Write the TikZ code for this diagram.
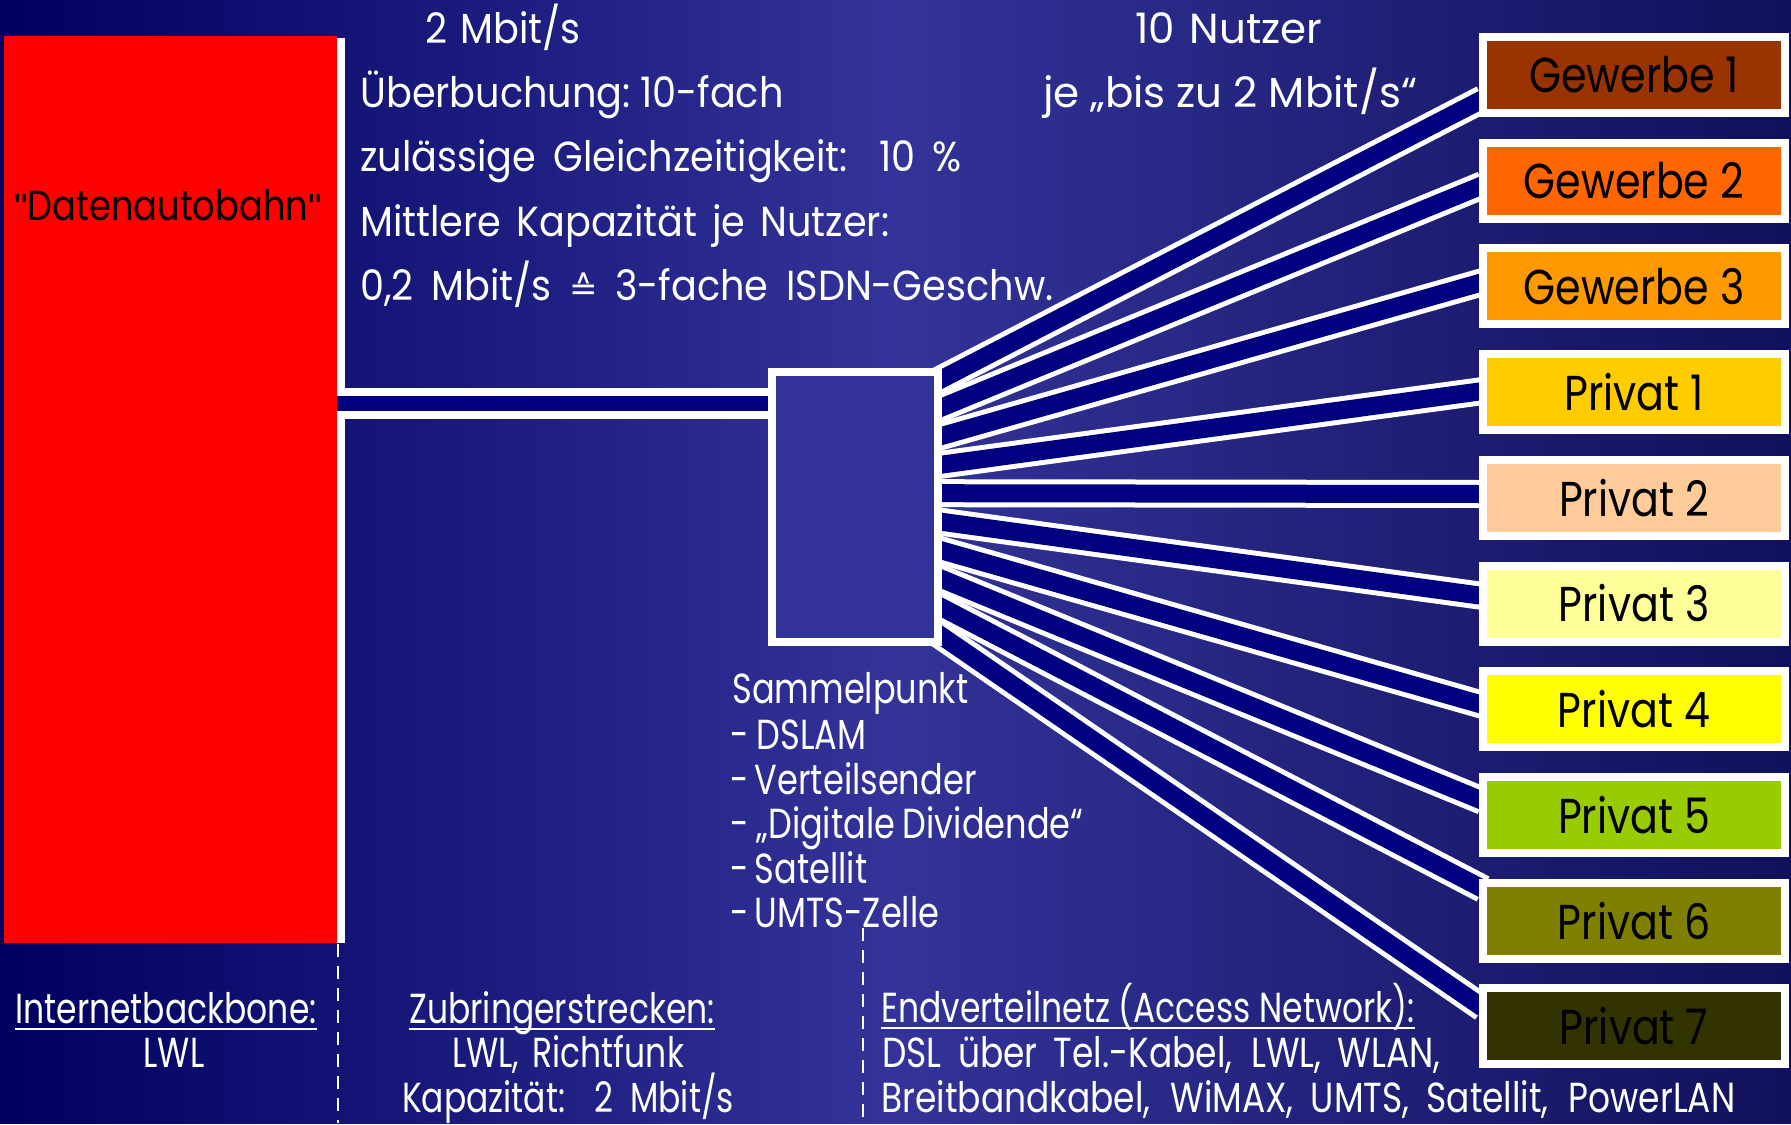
\documentclass[tikz,border=0pt]{standalone}
\usepackage{fontspec}
\setmainfont{Poppins}[FakeStretch=0.84]
\newfontfamily\fTop{Poppins}[FakeStretch=0.91]
\newfontfamily\fTR{Poppins}[FakeStretch=1.0]
\newfontfamily\fMid{Poppins}[FakeStretch=0.8]
\newfontfamily\fBot{Poppins}[FakeStretch=0.785]
\newfontfamily\fBotW{Poppins}[FakeStretch=0.82]
\newfontfamily\symf{DejaVu Sans}
\newfontfamily\qf{Liberation Sans}
\newcommand\fw[2]{\hbox to #1pt{\spaceskip=3pt plus 1fil\relax #2}}
\newcommand\nsp[2]{\hbox{\spaceskip=#1pt\relax #2}}
\usetikzlibrary{calc}
\pgfdeclarelayer{bglayer}
\pgfdeclarelayer{wirelayer}
\pgfsetlayers{bglayer,wirelayer,main}
\definecolor{bgL}{RGB}{0,0,96}
\definecolor{bgM}{RGB}{51,51,153}
\definecolor{bgR}{RGB}{16,16,92}
\definecolor{navyline}{RGB}{0,0,128}
\definecolor{cG1}{RGB}{153,51,0}
\definecolor{cG2}{RGB}{255,102,0}
\definecolor{cG3}{RGB}{255,153,0}
\definecolor{cP1}{RGB}{255,204,0}
\definecolor{cP2}{RGB}{255,204,153}
\definecolor{cP3}{RGB}{255,255,153}
\definecolor{cP4}{RGB}{255,255,0}
\definecolor{cP5}{RGB}{153,204,0}
\definecolor{cP6}{RGB}{128,128,0}
\definecolor{cP7}{RGB}{51,51,0}
\tikzset{
  wtxt/.style={text=white, inner sep=0pt, anchor=base west, font=\fontsize{21}{25}\selectfont},
  toptxt/.style={wtxt, font=\fontsize{21}{25}\fTop},
  trtxt/.style={wtxt, anchor=base, font=\fontsize{21}{25}\fTR},
  midtxt/.style={wtxt, font=\fontsize{21}{25}\fMid},
  bottxt/.style={wtxt, font=\fontsize{21}{25}\fBot},
  bottxtw/.style={wtxt, font=\fontsize{21}{25}\fBotW},
  ubox/.style={draw=white, line width=4pt, minimum width=151pt, minimum height=38pt,
    inner sep=0pt, text=black, font=\fontsize{24.5}{28}\selectfont},
  wire/.style={draw=white, line width=2.5pt, double=navyline, double distance=9pt},
  mainwire/.style={draw=white, line width=4pt, double=navyline, double distance=7.5pt},
  sep/.style={draw=white, line width=1pt, dash pattern=on 6.5pt off 4.5pt},
  uline/.style={draw=white, line width=1.2pt}
}
\begin{document}
\begin{tikzpicture}[x=0.5pt,y=-0.5pt]
\begin{pgfonlayer}{bglayer}
\path[use as bounding box, left color=bgL, right color=bgR, middle color=bgM] (0,0) rectangle (1791,1123);
\end{pgfonlayer}

% backbone
\node[fill=red, inner sep=0pt, outer sep=0pt, minimum width=166.5pt, minimum height=453.5pt] (backbone) at (170.5,489.5) {};
\node[inner sep=0pt, anchor=base, font=\fontsize{21}{25}\selectfont] (dab) at (168,220) {{\qf\fontsize{19}{25}\selectfont"}Datenautobahn{\qf\fontsize{19}{25}\selectfont"}};

% user boxes
\node[ubox, fill=cG1] (g1) at (1634,75) {Gewerbe 1};
\node[ubox, fill=cG2] (g2) at (1634,180.7) {Gewerbe 2};
\node[ubox, fill=cG3] (g3) at (1634,286.4) {Gewerbe 3};
\node[ubox, fill=cP1] (p1) at (1634,392.1) {Privat 1};
\node[ubox, fill=cP2] (p2) at (1634,497.8) {Privat 2};
\node[ubox, fill=cP3] (p3) at (1634,603.5) {Privat 3};
\node[ubox, fill=cP4] (p4) at (1634,709.2) {Privat 4};
\node[ubox, fill=cP5] (p5) at (1634,814.9) {Privat 5};
\node[ubox, fill=cP6] (p6) at (1634,920.6) {Privat 6};
\node[ubox, fill=cP7] (p7) at (1634,1026.3) {Privat 7};

% Sammelpunkt
\node[draw=white, fill=bgM, line width=4pt, minimum width=83pt, minimum height=135pt, inner sep=0pt] (sp) at (855,507) {};

\begin{pgfonlayer}{wirelayer}
\draw[white, line width=4pt] ($(backbone.north east)+(4,2)$) -- ($(backbone.south east)+(4,0)$);
\foreach \i/\d/\u in {0/24/g1, 1/4.3/g2, 2/-4.4/g3, 3/-1.1/p1, 4/-3.8/p2, 5/-7.5/p3, 6/-4.2/p4, 7/-13.9/p5, 8/-31.6/p6, 9/-18.3/p7}
  \draw[wire] ($(sp.north east)+(-6,{14+27.8*\i})$) -- ($(\u.west)+(4,\d)$);
\draw[mainwire] ($(backbone.north east)+(0,367.5)$) -- ($(sp.north west)+(6,35.5)$);
\end{pgfonlayer}

% top-left text
\node[toptxt] (t0) at (425,43) {\nsp{6.5}{2 Mbit/s}};
\node[toptxt] (t1) at (360,107) {\fw{208.5}{Überbuchung: 10-fach}};
\node[toptxt] (t2) at (360,171) {\fw{300.5}{zulässige Gleichzeitigkeit: 10 \%}};
\node[toptxt] (t3) at (360,236) {\fw{264.5}{Mittlere Kapazität je Nutzer:}};
\node[toptxt] (t4) at (360,300) {\fw{346.5}{0,2 Mbit/s {\symf\fontsize{17}{25}\selectfont ≙} 3-fache ISDN-Geschw.}};

% top-right text
\node[trtxt] (n1) at (1229,43) {\fw{93.5}{10 Nutzer}};
\node[trtxt] (n2) at (1230,107) {\fw{187}{je „bis zu 2 Mbit/s“}};

% Sammelpunkt text
\node[midtxt] (s0) at (732,703) {Sammelpunkt};
\node[midtxt] (s1) at (730,749) {\nsp{4}{- DSLAM}};
\node[midtxt] (s2) at (730,794) {\fw{113.5}{- Verteilsender}};
\node[midtxt] (s3) at (730,838) {\fw{176.5}{- „Digitale Dividende“}};
\node[midtxt] (s4) at (730,883) {\fw{63.5}{- Satellit}};
\node[midtxt] (s5) at (730,927) {\fw{103}{- UMTS-Zelle}};

% bottom text
\node[bottxt, anchor=base] (b1) at (166,1023) {Internetbackbone:};
\node[bottxt, anchor=base] (b2) at (174,1067) {LWL};
\node[bottxt, anchor=base] (b3) at (562,1023) {Zubringerstrecken:};
\node[bottxt, anchor=base] (b4) at (568,1067) {\fw{116}{LWL, Richtfunk}};
\node[bottxt, anchor=base] (b5) at (568,1112) {\fw{166}{Kapazität: 2 Mbit/s}};
\node[bottxt] (b6) at (881,1022) {\fw{266.5}{Endverteilnetz (Access Network):}};
\node[bottxtw] (b7) at (882,1067) {\fw{279}{DSL über Tel.-Kabel, LWL, WLAN,}};
\node[bottxtw] (b8) at (881,1112) {\fw{427}{Breitbandkabel, WiMAX, UMTS, Satellit, PowerLAN}};
\foreach \n in {b1,b3,b6}
  \draw[uline] ($(\n.base west)+(0,6)$) -- ($(\n.base east)+(0,6)$);

% separators
\coordinate (d1t) at (338,944);
\coordinate (d1b) at (338,1123);
\coordinate (d2t) at (863,928);
\coordinate (d2b) at (863,1123);
\draw[sep] (d1t) -- (d1b);
\draw[sep] (d2t) -- (d2b);
\end{tikzpicture}
\end{document}
